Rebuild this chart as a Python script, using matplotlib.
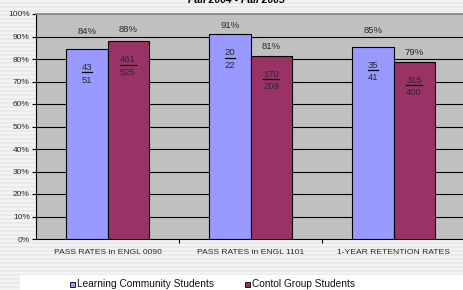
import matplotlib
matplotlib.use("Agg")
import matplotlib.pyplot as plt
import numpy as np
from matplotlib.patches import Rectangle
from matplotlib.lines import Line2D
from matplotlib.transforms import offset_copy

plt.rcParams["font.family"] = ["Liberation Sans", "DejaVu Sans"]

categories = ["PASS RATES in ENGL 0090", "PASS RATES in ENGL 1101", "1-YEAR RETENTION RATES"]
series_names = ["Learning Community Students", "Contol Group Students"]
lc_num = [43, 20, 35]
lc_den = [51, 22, 41]
cg_num = [461, 170, 315]
cg_den = [525, 209, 400]
title = "Fall 2004 - Fall 2005"

colors = ["#9999ff", "#993366"]
# offset of the % labels above the bar tops (points), as placed in the original
pct_offsets = [[13.0, 6.5, 12.0], [8.4, 7.0, 6.5]]

W, H = 463, 290
fig = plt.figure(figsize=(W / 100, H / 100), dpi=100)

# striped background
rows = np.arange(H)
stripe = np.where((rows // 2) % 2 == 0, 0.95, 0.915)
bg = np.repeat(stripe[:, None], W, axis=1)
fig.figimage(bg, xo=0, yo=0, cmap="gray", vmin=0, vmax=1, origin="upper", zorder=0)

ax = fig.add_axes([36 / W, 1 - 239 / H, 429 / W, 225 / H])
ax.set_zorder(2)
ax.set_facecolor("#c0c0c0")

x = np.arange(len(categories))
bw = 0.287
txt = "#2a2a2a"
series = [(lc_num, lc_den), (cg_num, cg_den)]
underline = []
for s, (nums, dens) in enumerate(series):
    rates = [n / d * 100 for n, d in zip(nums, dens)]
    xs = x + (s - 0.5) * bw
    ax.bar(xs, rates, width=bw, color=colors[s], edgecolor="black",
           linewidth=0.8, zorder=3)
    for i, (xi, r) in enumerate(zip(xs, rates)):
        tr = offset_copy(ax.transData, fig=fig, x=0, y=pct_offsets[s][i], units="points")
        ax.text(xi, r, f"{round(r)}%", transform=tr, ha="center", va="center",
                fontsize=6.8, color=txt, zorder=4)
        tr_n = offset_copy(ax.transData, fig=fig, x=0, y=-13.2, units="points")
        tn = ax.text(xi, r, str(nums[i]), transform=tr_n, ha="center", va="center",
                     fontsize=6.8, color=txt, zorder=4)
        tr_d = offset_copy(ax.transData, fig=fig, x=0, y=-22.3, units="points")
        ax.text(xi, r, str(dens[i]), transform=tr_d, ha="center", va="center",
                fontsize=6.8, color=txt, zorder=4)
        underline.append(tn)

ax.set_xlim(-0.5, len(categories) - 0.5)
ax.set_ylim(0, 100)
ax.set_yticks(np.arange(0, 101, 10))
ax.set_yticklabels([f"{v}%" for v in range(0, 101, 10)], fontsize=6, color=txt)
ax.set_xticks(x)
ax.set_xticklabels(categories, fontsize=6.1, color=txt)
ax.tick_params(axis="x", length=0, pad=7)
ax.tick_params(axis="y", length=3, width=0.8, pad=1.5)
ax.set_xticks(np.arange(0.5, len(categories) - 0.5, 1), minor=True)
ax.tick_params(axis="x", which="minor", length=3, width=0.8)
for v in range(10, 100, 10):
    ax.axhline(v, color="black", linewidth=0.8, zorder=1)

ax.spines["left"].set_color("black")
ax.spines["bottom"].set_color("black")
ax.spines["left"].set_linewidth(0.8)
ax.spines["bottom"].set_linewidth(0.8)
ax.spines["top"].set_color("#808080")
ax.spines["top"].set_linewidth(1.2)
ax.spines["right"].set_visible(False)

fig.text(236 / W, 1 - 0.3 / H, title, ha="center", va="center", fontsize=7.5,
         fontweight="bold", fontstyle="italic", zorder=3)

# legend strip
fig.add_artist(Rectangle((20 / W, 0), 1 - 20 / W, 15 / H, transform=fig.transFigure,
                         facecolor="white", edgecolor="none", zorder=1))
leg_x = [70, 245]
for s, name in enumerate(series_names):
    fig.add_artist(Rectangle((leg_x[s] / W, 1 - 286.5 / H), 5 / W, 5 / H,
                             transform=fig.transFigure, facecolor=colors[s],
                             edgecolor="black", linewidth=0.6, zorder=2))
    fig.text((leg_x[s] + 7) / W, 1 - 284 / H, name, ha="left", va="center",
             fontsize=7.3, color="#111111", zorder=2)

# underline the numerators
fig.canvas.draw()
renderer = fig.canvas.get_renderer()
inv = fig.transFigure.inverted()
for t in underline:
    bb = t.get_window_extent(renderer)
    (x0, y0), (x1, y1) = inv.transform([(bb.x0, bb.y0), (bb.x1, bb.y0)])
    fig.add_artist(Line2D([x0, x1], [y0 - 0.3 / H, y1 - 0.3 / H],
                          transform=fig.transFigure, color="black",
                          linewidth=0.9, zorder=5))

fig.savefig("out.png", dpi=100)
